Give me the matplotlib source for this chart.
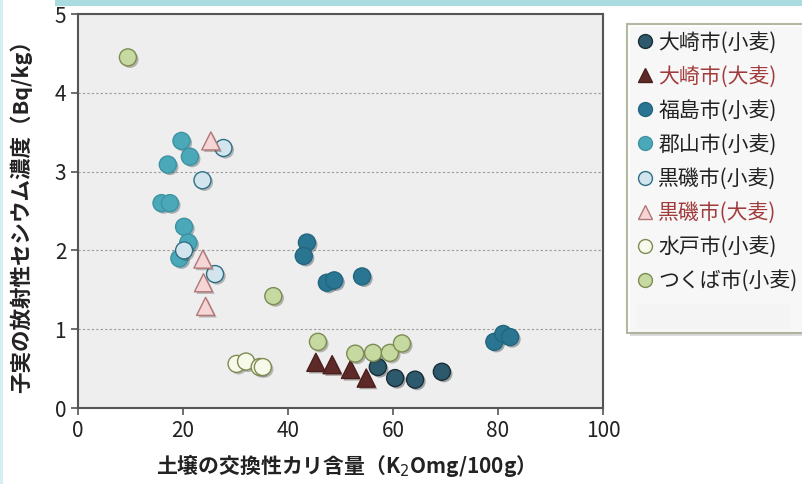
import matplotlib
matplotlib.use("Agg")
import matplotlib.pyplot as plt
import matplotlib.patheffects as pe
from matplotlib.patches import Rectangle
from matplotlib.lines import Line2D

plt.rcParams['font.family'] = ['Noto Sans CJK JP', 'DejaVu Sans']

# data
osaki_wheat_x = [57.1, 60.4, 64.2, 69.3]
osaki_wheat_y = [0.52, 0.38, 0.36, 0.46]
osaki_barley_x = [45.3, 48.4, 51.9, 54.9]
osaki_barley_y = [0.58, 0.55, 0.49, 0.38]
fukushima_x = [43.6, 43.0, 47.4, 48.8, 54.1, 79.3, 81.0, 82.3]
fukushima_y = [2.10, 1.93, 1.59, 1.62, 1.67, 0.84, 0.94, 0.90]
koriyama_x = [19.7, 21.3, 17.1, 15.9, 17.5, 20.2, 21.0, 19.3]
koriyama_y = [3.39, 3.19, 3.09, 2.60, 2.60, 2.30, 2.10, 1.90]
kuroiso_wheat_x = [27.7, 23.7, 20.2, 26.1]
kuroiso_wheat_y = [3.30, 2.89, 2.00, 1.70]
kuroiso_barley_x = [25.3, 23.8, 23.9, 24.3]
kuroiso_barley_y = [3.39, 1.89, 1.59, 1.29]
mito_x = [30.2, 32.0, 34.6, 35.2]
mito_y = [0.56, 0.59, 0.52, 0.52]
tsukuba_x = [9.5, 37.2, 45.7, 52.8, 56.2, 59.4, 61.7]
tsukuba_y = [4.45, 1.42, 0.84, 0.69, 0.70, 0.70, 0.82]

series = [
    ("大崎市(小麦)", osaki_wheat_x, osaki_wheat_y, "o", "#2c5a6c", "#1a2e38", "#222222"),
    ("大崎市(大麦)", osaki_barley_x, osaki_barley_y, "^", "#5e2a27", "#4a1e1c", "#a23c3c"),
    ("福島市(小麦)", fukushima_x, fukushima_y, "o", "#2a7591", "#226680", "#222222"),
    ("郡山市(小麦)", koriyama_x, koriyama_y, "o", "#4ba8b8", "#3d93a3", "#222222"),
    ("黒磯市(小麦)", kuroiso_wheat_x, kuroiso_wheat_y, "o", "#d2e5ee", "#2f6e85", "#222222"),
    ("黒磯市(大麦)", kuroiso_barley_x, kuroiso_barley_y, "^", "#f5d5d5", "#b27676", "#a23c3c"),
    ("水戸市(小麦)", mito_x, mito_y, "o", "#f7f9ea", "#7d8c52", "#222222"),
    ("つくば市(小麦)", tsukuba_x, tsukuba_y, "o", "#c6d9a1", "#7d8c52", "#222222"),
]

fig = plt.figure(figsize=(8.02, 4.84), dpi=100)
fig.patch.set_facecolor("white")

# decorative bands of the slide
fig.patches.append(Rectangle((0.068, 0.988), 0.94, 0.02, transform=fig.transFigure,
                             facecolor="#aadbdf", edgecolor="none", zorder=0))
fig.patches.append(Rectangle((0, 0), 0.004, 1, transform=fig.transFigure,
                             facecolor="#d5eef2", edgecolor="none", zorder=0))

ax = fig.add_axes([0.0973, 0.157, 0.6546, 0.814])
ax.set_facecolor("#eeeeee")

shadow = [pe.SimplePatchShadow(offset=(1.5, -1.5), alpha=0.35), pe.Normal()]
handles = []
for label, xs, ys, mk, fc, ec, tc in series:
    size = 150 if mk == "o" else 170
    sc = ax.scatter(xs, ys, s=size, marker=mk, facecolor=fc, edgecolor=ec,
                    linewidth=1.0, zorder=3)
    sc.set_path_effects(shadow)
    handles.append(Line2D([], [], marker=mk, linestyle="none", markersize=10,
                          markerfacecolor=fc, markeredgecolor=ec, label=label))

ax.set_xlim(0, 100)
ax.set_ylim(0, 5)
ax.set_xticks([0, 20, 40, 60, 80, 100])
ax.set_yticks([0, 1, 2, 3, 4, 5])
ax.yaxis.grid(True, linestyle=(0, (2, 2)), color="#9a9a9a", linewidth=0.8)
ax.set_axisbelow(True)
for s in ax.spines.values():
    s.set_color("#555555")
    s.set_linewidth(1.5)
ax.tick_params(axis="both", direction="out", length=5, width=1.2, color="#555555",
               labelsize=15, labelcolor="#222222")

ax.set_xlabel("土壌の交換性カリ含量（K$_2$Omg/100g）", fontsize=15, fontweight="bold",
              color="#222222", labelpad=7)
ax.set_ylabel("子実の放射性セシウム濃度（Bq/kg）", fontsize=15.5, fontweight="bold",
              color="#222222", labelpad=16)

handles.append(Line2D([], [], linestyle="none", label=" "))
leg = fig.legend(handles=handles, loc="upper left", bbox_to_anchor=(0.782, 0.95),
                 fontsize=15, frameon=True, fancybox=False, handletextpad=0.15,
                 handlelength=1.0, labelspacing=0.58, borderpad=0.35,
                 borderaxespad=0)
leg.get_frame().set_edgecolor("#9fa78a")
leg.get_frame().set_linewidth(1.5)
leg.get_frame().set_facecolor("white")
leg.get_frame().set_path_effects([pe.SimplePatchShadow(offset=(2, -2), alpha=0.2), pe.Normal()])
for txt, ser in zip(leg.get_texts(), series):
    txt.set_color(ser[6])

# empty entry box at the bottom of the legend
fig.patches.append(Rectangle((0.792, 0.322), 0.193, 0.052, transform=fig.transFigure,
                             facecolor="#eeeeee", edgecolor="#f8f8f8", zorder=5))

fig.savefig("out.png", dpi=100)
